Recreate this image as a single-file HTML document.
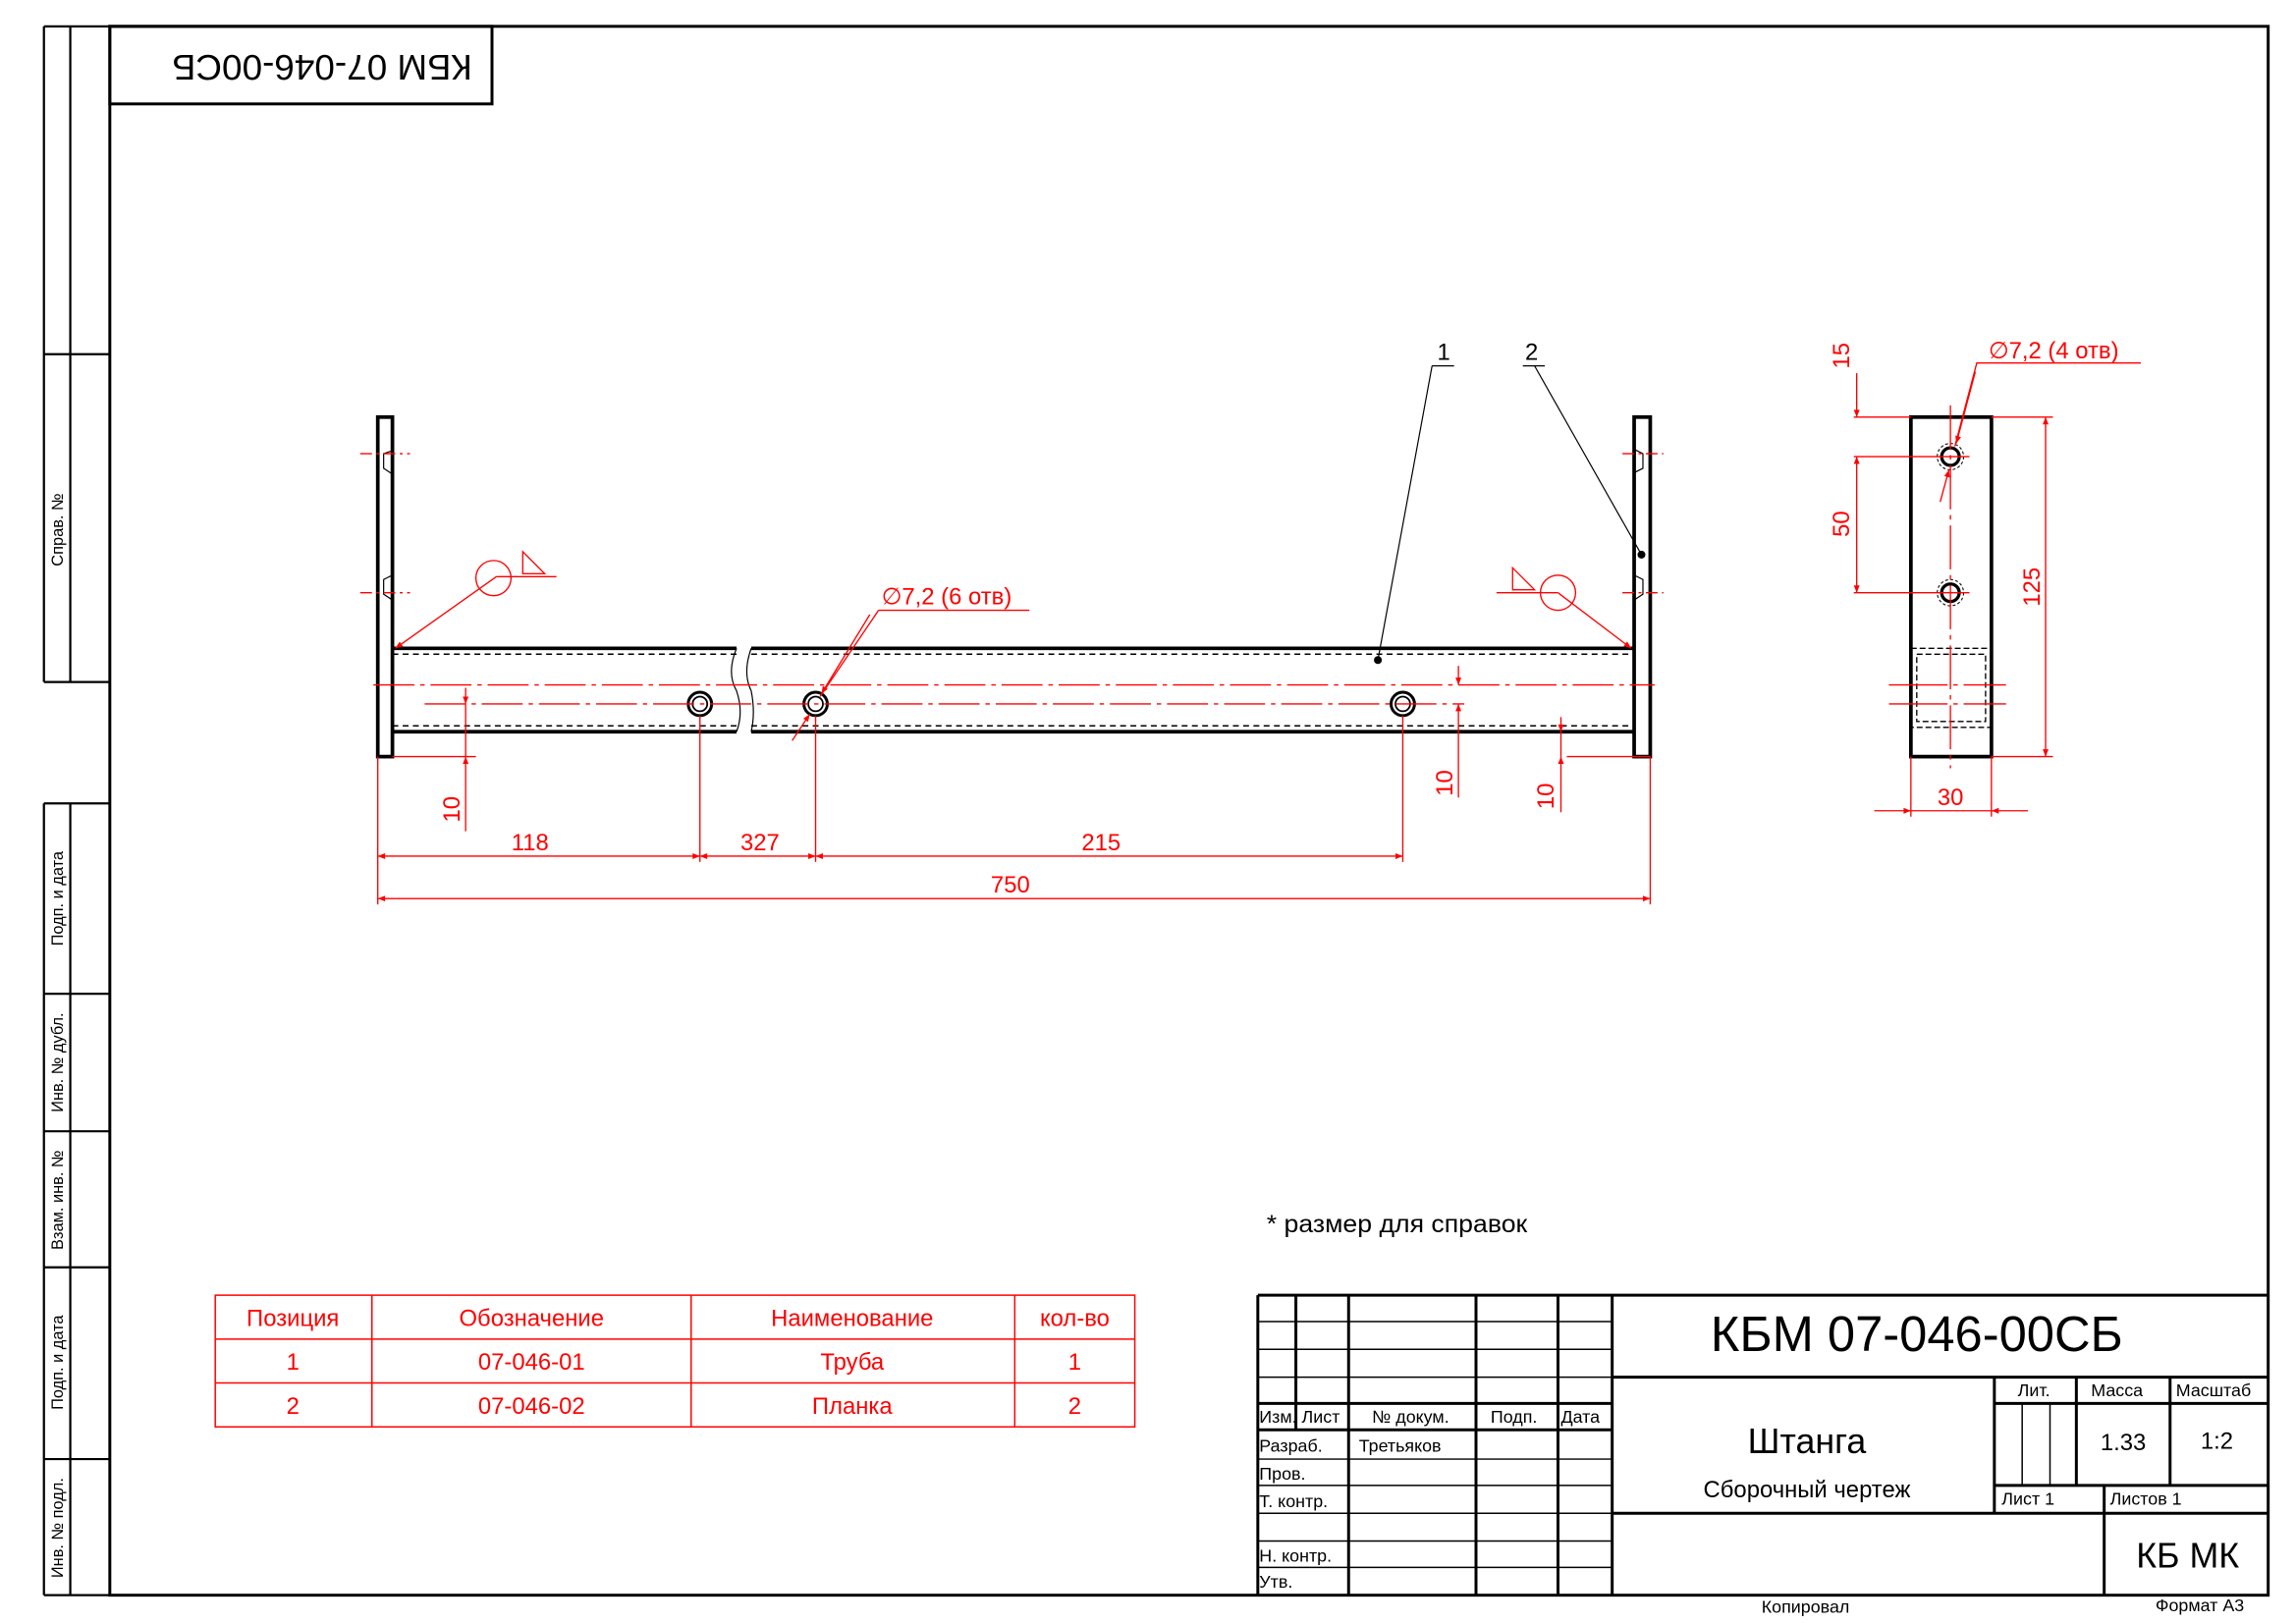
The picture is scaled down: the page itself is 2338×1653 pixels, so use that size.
<!DOCTYPE html>
<html><head><meta charset="utf-8"><style>
html,body{margin:0;padding:0;background:#fff;}
svg{display:block;}
text{font-family:"Liberation Sans","DejaVu Sans",sans-serif;}
</style></head><body>
<svg width="2338" height="1653" viewBox="0 0 1568 1109" preserveAspectRatio="none" xmlns="http://www.w3.org/2000/svg">
<defs>
<marker id="a" viewBox="0 0 10 10" refX="10" refY="5" markerWidth="9" markerHeight="5" orient="auto-start-reverse" markerUnits="userSpaceOnUse"><path d="M0,1 L10,5 L0,9 Z" fill="#f00"/></marker>
</defs>
<rect width="1568" height="1109" fill="#fff"/>
<g stroke="#000" fill="none">
<rect x="75" y="18" width="1474" height="1072" stroke-width="2"/>
<line x1="30" y1="18" x2="75" y2="18" stroke-width="1.5"/>
<line x1="30" y1="18" x2="30" y2="466" stroke-width="1.5"/>
<line x1="48" y1="18" x2="48" y2="466" stroke-width="1.5"/>
<line x1="30" y1="242" x2="75" y2="242" stroke-width="1.5"/>
<line x1="30" y1="466" x2="75" y2="466" stroke-width="1.5"/>
<line x1="30" y1="549" x2="75" y2="549" stroke-width="1.5"/>
<line x1="30" y1="549" x2="30" y2="1090" stroke-width="1.5"/>
<line x1="48" y1="549" x2="48" y2="1090" stroke-width="1.5"/>
<line x1="30" y1="679" x2="75" y2="679" stroke-width="1.5"/>
<line x1="30" y1="773" x2="75" y2="773" stroke-width="1.5"/>
<line x1="30" y1="866" x2="75" y2="866" stroke-width="1.5"/>
<line x1="30" y1="997" x2="75" y2="997" stroke-width="1.5"/>
<line x1="30" y1="1090" x2="75" y2="1090" stroke-width="1.5"/>
<rect x="75" y="18" width="261" height="53" stroke-width="2"/>
</g>
<text transform="translate(220,44) rotate(180)" font-size="24" text-anchor="middle" dominant-baseline="middle" textLength="205" lengthAdjust="spacingAndGlyphs">КБМ 07-046-00СБ</text>
<g font-size="11" text-anchor="middle">
<text transform="translate(43,362) rotate(-90)">Справ. №</text>
<text transform="translate(43,614) rotate(-90)">Подп. и дата</text>
<text transform="translate(43,726) rotate(-90)">Инв. № дубл.</text>
<text transform="translate(43,820) rotate(-90)">Взам. инв. №</text>
<text transform="translate(43,931) rotate(-90)">Подп. и дата</text>
<text transform="translate(43,1044) rotate(-90)">Инв. № подл.</text>
</g>

<g stroke="#000" fill="none">
<rect x="258" y="285" width="10" height="232" stroke-width="2.5"/>
<rect x="1116" y="285" width="11" height="232" stroke-width="2.5"/>
<path d="M268 443 H503 M513 443 H1116 M268 500 H503 M513 500 H1116" stroke-width="2.5"/>
<path d="M268 447 H503 M513 447 H1116 M268 496 H503 M513 496 H1116" stroke-width="1" stroke-dasharray="4 3"/>
<path d="M503 443 Q496 460 503 472 Q508 487 503 500 M513 443 Q507 460 513 472 Q516 487 513 500" stroke-width="0.8"/>
<g stroke-width="2"><circle cx="478" cy="481" r="8"/><circle cx="557" cy="481" r="8"/><circle cx="958" cy="481" r="8"/></g>
<g stroke-width="1.2"><circle cx="478" cy="481" r="5"/><circle cx="557" cy="481" r="5"/><circle cx="958" cy="481" r="5"/></g>
<path d="M268 308 L262 310 V320 L268 324 M268 393 L262 396 V406 L268 410 M1116 307 L1122 310 V320 L1116 323 M1116 393 L1122 396 V406 L1116 410" stroke-width="0.8"/>
<path d="M978 250 H993 M978 250 L941 451 M1040 250 H1055 M1048 250 L1121 379" stroke-width="0.8"/>
<circle cx="941" cy="451" r="2.2" fill="#000"/><circle cx="1121" cy="379" r="2.2" fill="#000"/>
</g>
<text x="986" y="246" font-size="16" text-anchor="middle">1</text>
<text x="1046" y="246" font-size="16" text-anchor="middle">2</text>

<g stroke="#f00" fill="none" stroke-width="0.9">
<path d="M255 468 H1130" stroke-dasharray="28 4 3 4"/>
<path d="M290 481 H1000" stroke-dasharray="28 4 3 4"/>
<path d="M246 310 H280 M246 405 H280 M1108 310 H1136 M1108 405 H1136" stroke-dasharray="8 3 2 3"/>
<path d="M258 517 V618 M1127 517 V618 M478 489 V589 M557 489 V589 M958 489 V589"/>
<path d="M268 517 H325 M1070 517 H1127"/>
<path d="M258 614 H1127" marker-start="url(#a)" marker-end="url(#a)"/>
<path d="M258 585 H478" marker-start="url(#a)" marker-end="url(#a)"/>
<path d="M478 585 H557" marker-start="url(#a)" marker-end="url(#a)"/>
<path d="M557 585 H958" marker-start="url(#a)" marker-end="url(#a)"/>
<path d="M318 470 V481" marker-end="url(#a)"/><path d="M318 568 V517" marker-end="url(#a)"/><path d="M318 481 V517"/>
<path d="M996 455 V468" marker-end="url(#a)"/><path d="M996 545 V481" marker-end="url(#a)"/>
<path d="M1066 490 V500" marker-end="url(#a)"/><path d="M1066 555 V517" marker-end="url(#a)"/><path d="M1066 500 V517"/>
<circle cx="337" cy="395" r="12"/>
<path d="M357 377 V392 H372 Z M339 394 H380"/>
<path d="M339 394 L270 443" marker-end="url(#a)"/>
<circle cx="1064" cy="405" r="12"/>
<path d="M1033 388 V403 H1048 Z M1022 405 H1064"/>
<path d="M1064 405 L1114 443" marker-end="url(#a)"/>
<path d="M703 417 H600 M600 417 L560 476" />
<path d="M594 420 L561 474" marker-end="url(#a)"/>
<path d="M541 506 L553 488" marker-end="url(#a)"/>
</g>
<g fill="#f00" font-size="16" text-anchor="middle">
<text x="690" y="610">750</text>
<text x="362" y="581">118</text>
<text x="519" y="581">327</text>
<text x="752" y="581">215</text>
<text transform="translate(314,553) rotate(-90)">10</text>
<text transform="translate(992,535) rotate(-90)">10</text>
<text transform="translate(1061,544) rotate(-90)">10</text>
<text x="602" y="413" text-anchor="start">∅7,2 (6 отв)</text>
</g>

<g stroke="#000" fill="none">
<rect x="1305" y="285" width="55" height="232" stroke-width="2.5"/>
<circle cx="1332" cy="312" r="6" stroke-width="2.2"/><circle cx="1332" cy="405" r="6" stroke-width="2.2"/>
<circle cx="1332" cy="312" r="9" stroke-width="0.7" stroke-dasharray="2 1.5"/><circle cx="1332" cy="405" r="9" stroke-width="0.7" stroke-dasharray="2 1.5"/>
<rect x="1305" y="443" width="55" height="54" stroke-width="0.9" stroke-dasharray="4 2"/>
<rect x="1309" y="447" width="47" height="46" stroke-width="0.9" stroke-dasharray="4 2"/>
</g>
<g stroke="#f00" fill="none" stroke-width="0.9">
<path d="M1332 277 V525" stroke-dasharray="30 4 3 4"/>
<path d="M1290 468 H1370 M1290 481 H1370" stroke-dasharray="40 4 3 4"/>
<path d="M1266 285 H1305 M1266 312 H1345 M1266 405 H1345 M1360 285 H1402 M1360 517 H1402 M1305 517 V558 M1360 517 V558"/>
<path d="M1268 255 V285" marker-end="url(#a)"/>
<path d="M1268 312 V405" marker-start="url(#a)" marker-end="url(#a)"/>
<path d="M1397 285 V517" marker-start="url(#a)" marker-end="url(#a)"/>
<path d="M1280 554 H1305" marker-end="url(#a)"/><path d="M1385 554 H1360" marker-end="url(#a)"/><path d="M1305 554 H1360"/>
<path d="M1462 248 H1350 L1335 305" /><path d="M1349 254 L1336 303" marker-end="url(#a)"/>
<path d="M1325 343 L1331 321" marker-end="url(#a)"/>
</g>
<g fill="#f00" font-size="16" text-anchor="middle">
<text transform="translate(1263,243) rotate(-90)">15</text>
<text transform="translate(1263,358) rotate(-90)">50</text>
<text transform="translate(1393,401) rotate(-90)">125</text>
<text x="1332" y="550">30</text>
<text x="1358" y="245" text-anchor="start">∅7,2 (4 отв)</text>
</g>

<text x="865" y="842" font-size="17" textLength="178" lengthAdjust="spacingAndGlyphs">* размер для справок</text>

<g stroke="#f00" fill="none" stroke-width="1">
<rect x="147" y="885" width="628" height="90"/>
<path d="M147 915 H775 M147 945 H775 M254 885 V975 M472 885 V975 M693 885 V975"/>
</g>
<g fill="#f00" font-size="16" text-anchor="middle">
<text x="200" y="906">Позиция</text><text x="363" y="906">Обозначение</text><text x="582" y="906">Наименование</text><text x="734" y="906">кол-во</text>
<text x="200" y="936">1</text><text x="363" y="936">07-046-01</text><text x="582" y="936">Труба</text><text x="734" y="936">1</text>
<text x="200" y="966">2</text><text x="363" y="966">07-046-02</text><text x="582" y="966">Планка</text><text x="734" y="966">2</text>
</g>

<g stroke="#000" fill="none">
<path d="M859 885 H1549 M859 885 V1090" stroke-width="2"/>
<path d="M1101 885 V1090 M921 885 V1090 M1008 885 V1090 M1064 885 V1090 M885 885 V977" stroke-width="2"/>
<path d="M859 903 H1101 M859 922 H1101 M859 941 H1101 M859 997 H1101 M859 1015 H1101 M859 1034 H1101 M859 1053 H1101 M859 1071 H1101" stroke-width="1"/>
<path d="M859 959 H1101 M859 977 H1101" stroke-width="2"/>
<path d="M1101 941 H1549 M1101 1034 H1549 M1362 959 H1549 M1362 1015 H1549" stroke-width="2"/>
<path d="M1362 941 V1034 M1418 941 V1015 M1482 941 V1015 M1437 1015 V1090" stroke-width="2"/>
<path d="M1381 959 V1015 M1400 959 V1015" stroke-width="1"/>
</g>
<text x="1309" y="923" font-size="34" text-anchor="middle">КБМ 07-046-00СБ</text>
<text x="1234" y="993" font-size="24" text-anchor="middle">Штанга</text>
<text x="1234" y="1023" font-size="16" text-anchor="middle">Сборочный чертеж</text>
<text x="1494" y="1071" font-size="24" text-anchor="middle">КБ МК</text>
<g font-size="12">
<text x="860" y="972">Изм.</text><text x="889" y="972">Лист</text><text x="937" y="972">№ докум.</text><text x="1018" y="972">Подп.</text><text x="1066" y="972">Дата</text>
<text x="860" y="992">Разраб.</text><text x="928" y="992">Третьяков</text>
<text x="860" y="1011">Пров.</text>
<text x="860" y="1030">Т. контр.</text>
<text x="860" y="1067">Н. контр.</text>
<text x="860" y="1085">Утв.</text>
<text x="1378" y="954">Лит.</text><text x="1428" y="954">Масса</text><text x="1486" y="954">Масштаб</text>
<text x="1367" y="1028">Лист 1</text><text x="1441" y="1028">Листов 1</text>
<text x="1203" y="1102">Копировал</text><text x="1472" y="1101">Формат А3</text>
</g>
<text x="1450" y="991" font-size="16" text-anchor="middle">1.33</text>
<text x="1514" y="990" font-size="16" text-anchor="middle">1:2</text>
</svg>
</body></html>
